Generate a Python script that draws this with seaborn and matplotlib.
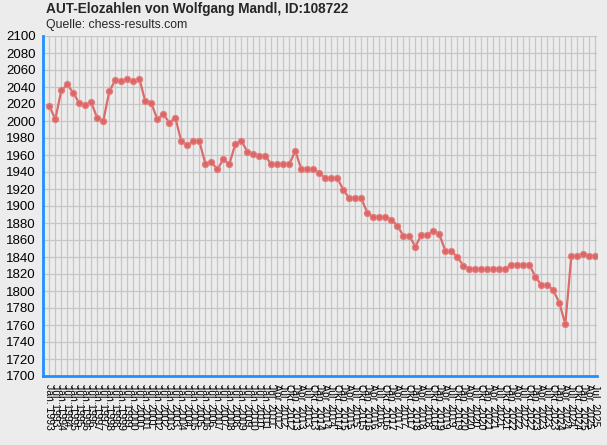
import matplotlib
matplotlib.use("Agg")
import matplotlib.pyplot as plt
import pandas as pd
import seaborn as sns

# Elo values, one per rating list
elo = [2018, 2002, 2036, 2043, 2033, 2021, 2019, 2022, 2003, 2000,
       2035, 2048, 2047, 2050, 2047, 2050, 2023, 2021, 2002, 2008,
       1998, 2004, 1976, 1972, 1976, 1976, 1950, 1952, 1943, 1955,
       1949, 1973, 1977, 1964, 1961, 1959, 1959, 1949, 1949, 1949,
       1949, 1965, 1943, 1943, 1943, 1939, 1933, 1933, 1933, 1919,
       1909, 1909, 1909, 1892, 1887, 1887, 1887, 1884, 1877, 1865,
       1865, 1852, 1866, 1866, 1871, 1867, 1847, 1847, 1840, 1830,
       1826, 1826, 1826, 1826, 1826, 1826, 1826, 1831, 1831, 1831,
       1831, 1817, 1807, 1807, 1801, 1786, 1761, 1841, 1841, 1844,
       1841, 1841]

# rating list dates: half-yearly until 2011, then quarterly up to Jul. 2025
half_years = list(range(1993, 2012))
quarter_years = list(range(2012, 2026))
dates = []
for y in half_years:
    dates += [f"Jan. {y}", f"Jul. {y}"]
for y in quarter_years:
    for m in ["Jan.", "Apr.", "Jul.", "Okt."]:
        dates.append(f"{m} {y}")
dates.remove("Jan. 2012")
dates = dates[:len(elo)]

y_ticks = list(range(1700, 2101, 20))

df = pd.DataFrame({"pos": range(len(elo)), "elo": elo})

bg = "#ececec"
blue = "#1e90ff"
red = "#dc6464"

sns.set_style("whitegrid")
plt.rcParams["font.family"] = ["Liberation Sans", "DejaVu Sans"]

fig = plt.figure(figsize=(6.07, 4.45), dpi=100, facecolor=bg)
ax = fig.add_axes([43 / 607, 69 / 445, 554 / 607, 340 / 445])
ax.set_facecolor(bg)

sns.lineplot(data=df, x="pos", y="elo", ax=ax, color=red, linewidth=1.6,
             marker="o", markersize=4.5, markeredgecolor="#e38080",
             markeredgewidth=0.8, alpha=0.95, zorder=3)

ax.set_xlim(-1.05, len(elo) - 1 + 0.28)
ax.set_ylim(1700, 2100)
ax.set_xticks(range(len(elo)))
ax.set_xticklabels(dates, rotation=-90, fontsize=7.5)
ax.set_yticks(y_ticks)
ax.set_yticklabels([str(v) for v in y_ticks], fontsize=9.5)
ax.set_xlabel("")
ax.set_ylabel("")

ax.grid(True, color="#c6c6c6", linewidth=0.9)
for s in ["top", "right"]:
    ax.spines[s].set_visible(False)
for s in ["left", "bottom"]:
    ax.spines[s].set_visible(True)
    ax.spines[s].set_color(blue)
    ax.spines[s].set_linewidth(2)
ax.tick_params(axis="both", colors=blue, length=4, width=1.8, labelcolor="black")
ax.tick_params(axis="y", pad=1)
ax.tick_params(axis="x", pad=2)

fig.text(46 / 607, 1 - 2 / 445, "AUT-Elozahlen von Wolfgang Mandl, ID:108722",
         fontsize=9.8, fontweight="bold", va="top", ha="left")
fig.text(46 / 607, 1 - 19 / 445, "Quelle: chess-results.com",
         fontsize=8.8, va="top", ha="left")

fig.savefig("out.png", dpi=100, facecolor=bg)
